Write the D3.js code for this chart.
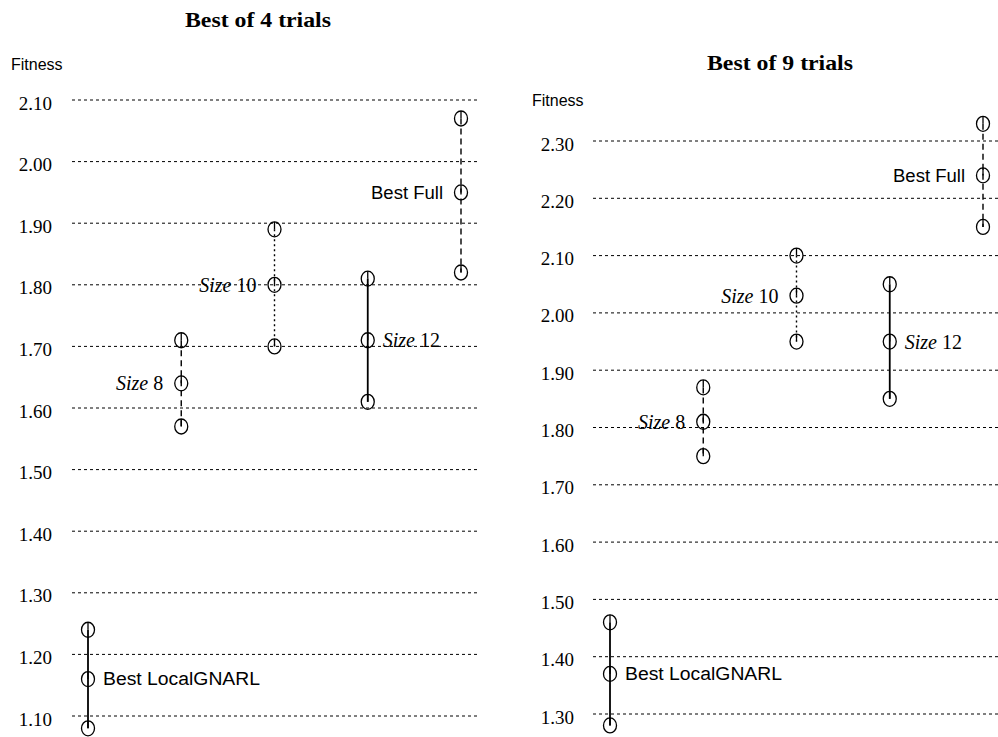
<!DOCTYPE html>
<html>
<head>
<meta charset="utf-8">
<script src="https://cdn.jsdelivr.net/npm/d3@7"></script>
<style>
  html, body { margin: 0; padding: 0; background: #fff; }
  svg { display: block; }
</style>
</head>
<body>
<svg id="chart" width="998" height="737"></svg>
<script>
// Methods compared in both panels
const categories = ["Best LocalGNARL", "Size 8", "Size 10", "Size 12", "Best Full"];

// Best of 4 trials: high / middle / low fitness per method
const trials4High = [1.24, 1.71, 1.89, 1.81, 2.07];
const trials4Mid  = [1.16, 1.64, 1.80, 1.71, 1.95];
const trials4Low  = [1.08, 1.57, 1.70, 1.61, 1.82];
const ticks4 = [1.10, 1.20, 1.30, 1.40, 1.50, 1.60, 1.70, 1.80, 1.90, 2.00, 2.10];

// Best of 9 trials
const trials9High = [1.46, 1.87, 2.10, 2.05, 2.33];
const trials9Mid  = [1.37, 1.81, 2.03, 1.95, 2.24];
const trials9Low  = [1.28, 1.75, 1.95, 1.85, 2.15];
const ticks9 = [1.30, 1.40, 1.50, 1.60, 1.70, 1.80, 1.90, 2.00, 2.10, 2.20, 2.30];

// Per-method drawing style
const lineDash  = [null, "6,4", "2,3", null, "6,4"];
const labelSide = ["right", "left", "left", "right", "left"];
const labelFont = ["sans", "serif", "serif", "serif", "sans"];

const svg = d3.select("#chart");

function drawPanel(opts) {
  const g = svg.append("g");
  const y = d3.scaleLinear().domain(opts.yDomain).range(opts.yRange);
  const x = d3.scalePoint().domain(categories).range(opts.xRange);

  // title
  g.append("text")
    .attr("x", opts.titleX).attr("y", opts.titleY)
    .attr("text-anchor", "middle")
    .attr("font-family", "Liberation Serif, serif")
    .attr("font-weight", "bold")
    .attr("font-size", 21)
    .attr("textLength", 146).attr("lengthAdjust", "spacingAndGlyphs")
    .text(opts.title);

  // axis title
  g.append("text")
    .attr("x", opts.axisLabelX).attr("y", opts.axisLabelY)
    .attr("font-family", "Liberation Sans, sans-serif")
    .attr("font-size", 16)
    .text("Fitness");

  // dotted gridlines
  g.append("g").selectAll("line").data(opts.ticks).join("line")
    .attr("x1", opts.gridX[0]).attr("x2", opts.gridX[1])
    .attr("y1", d => y(d)).attr("y2", d => y(d))
    .attr("stroke", "#000").attr("stroke-width", 1)
    .attr("stroke-dasharray", "3,3");

  // tick labels
  const axis = d3.axisLeft(y).tickValues(opts.ticks)
    .tickFormat(d3.format(".2f")).tickSize(0).tickPadding(opts.gridX[0] - opts.labelRight);
  const ag = g.append("g").attr("transform", `translate(${opts.gridX[0]},3)`).call(axis);
  ag.select(".domain").remove();
  ag.selectAll("text")
    .attr("font-family", "Liberation Serif, serif")
    .attr("font-size", 19)
    .attr("fill", "#000");

  const rows = categories.map((c, i) => ({
    c, i, hi: opts.high[i], mid: opts.mid[i], lo: opts.low[i]
  }));

  // connecting lines
  g.append("g").selectAll("line").data(rows).join("line")
    .attr("x1", d => x(d.c)).attr("x2", d => x(d.c))
    .attr("y1", d => y(d.hi)).attr("y2", d => y(d.lo))
    .attr("stroke", "#000")
    .attr("stroke-width", d => lineDash[d.i] ? 1.4 : 1.8)
    .attr("stroke-dasharray", d => lineDash[d.i]);

  // circle markers
  const pts = rows.flatMap(d => [d.hi, d.mid, d.lo].map(v => ({ c: d.c, v })));
  const mk = g.append("g").selectAll("g").data(pts).join("g")
    .attr("transform", d => `translate(${x(d.c)},${y(d.v)})`);
  mk.append("ellipse")
    .attr("rx", 6.5).attr("ry", 7.5)
    .attr("fill", "none").attr("stroke", "#000").attr("stroke-width", 1.3);
  mk.append("line")
    .attr("x1", 0).attr("x2", 0).attr("y1", -7.5).attr("y2", 0)
    .attr("stroke", "#000").attr("stroke-width", 1.3);

  // method labels beside the middle marker
  const lab = g.append("g").selectAll("text").data(rows).join("text")
    .attr("x", d => x(d.c) + (labelSide[d.i] === "right" ? 15 : -18))
    .attr("y", d => y(d.mid))
    .attr("dy", "0.35em")
    .attr("text-anchor", d => labelSide[d.i] === "right" ? "start" : "end")
    .attr("fill", "#000");
  lab.filter(d => labelFont[d.i] === "sans")
    .attr("font-family", "Liberation Sans, sans-serif")
    .attr("font-size", 18)
    .attr("textLength", d => d.c.length > 10 ? 157 : 72)
    .attr("lengthAdjust", "spacingAndGlyphs")
    .text(d => d.c);
  lab.filter(d => labelFont[d.i] === "serif")
    .attr("font-family", "Liberation Serif, serif")
    .attr("font-size", 20)
    .each(function (d) {
      const parts = d.c.split(" ");
      const t = d3.select(this);
      t.append("tspan").attr("font-style", "italic").text(parts[0]);
      t.append("tspan").text(" " + parts[1]);
    });
}

drawPanel({
  title: "Best of 4 trials", titleX: 258, titleY: 27,
  axisLabelX: 11, axisLabelY: 70,
  yDomain: [1.10, 2.10], yRange: [716, 100],
  xRange: [88, 461], gridX: [72, 478], labelRight: 52,
  ticks: ticks4, high: trials4High, mid: trials4Mid, low: trials4Low
});

drawPanel({
  title: "Best of 9 trials", titleX: 780, titleY: 70,
  axisLabelX: 532, axisLabelY: 106,
  yDomain: [1.30, 2.30], yRange: [714, 141],
  xRange: [610, 983], gridX: [593, 1000], labelRight: 574,
  ticks: ticks9, high: trials9High, mid: trials9Mid, low: trials9Low
});
</script>
</body>
</html>
